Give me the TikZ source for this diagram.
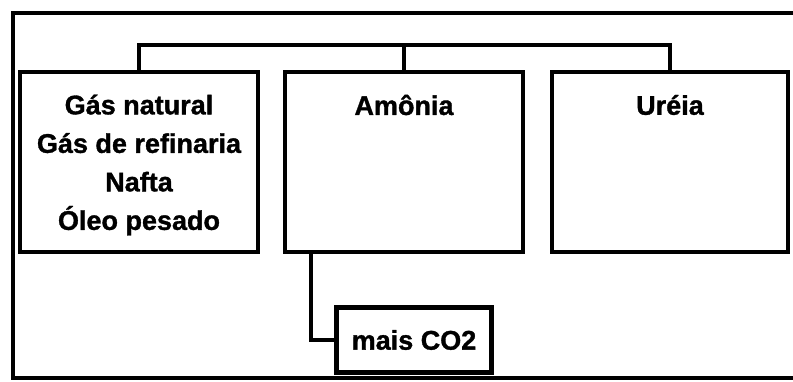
\documentclass[tikz,border=0pt]{standalone}
\usepackage{fontspec}
\setmainfont{Liberation Sans}
\newfontfamily\grossa[FakeBold=1.2]{Liberation Sans Bold}
\tikzset{
  caixa/.style={draw, line width=4.5pt, minimum width=238pt, minimum height=180pt, inner sep=0pt},
  texto/.style={font=\grossa\fontsize{27}{38.5}\selectfont, align=center, inner sep=0pt},
  liga/.style={line width=3.5pt}
}
\begin{document}
\begin{tikzpicture}[x=1pt,y=-1pt]
\useasboundingbox (0,0) rectangle (793,381);
% moldura
\draw[line width=3.5pt] (793,13) -- (13,13) -- (13,378) -- (793,378);
% caixas
\node[caixa] (gas) at (139,162) {};
\node[caixa] (amonia) at (404,162) {};
\node[caixa, minimum width=236pt] (ureia) at (670,162) {};
\node[texto] (gastxt) at (139,165) {Gás natural\\Gás de refinaria\\Nafta\\Óleo pesado};
\node[texto] (amoniatxt) at (404,105) {Amônia};
\node[texto] (ureiatxt) at (670,105) {Uréia};
\node[caixa, texto, minimum width=155pt, minimum height=65pt] (co2) at (414,340) {mais CO2};
% ligacoes
\draw[liga] (gas.north) -- ++(0,-25) -| (ureia.north);
\draw[liga] (amonia.north) -- ++(0,-25);
\draw[liga] (amonia.south west) ++(28,0) |- (co2.west);
\end{tikzpicture}
\end{document}
